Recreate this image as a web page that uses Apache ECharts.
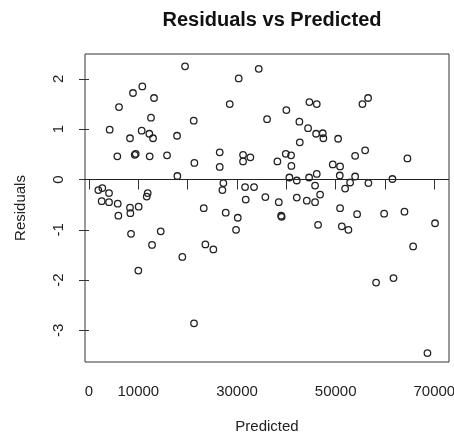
<!DOCTYPE html>
<html>
<head>
<meta charset="utf-8">
<script src="https://cdn.jsdelivr.net/npm/echarts@6/dist/echarts.min.js"></script>
<style>
html,body{margin:0;padding:0;background:#fff;}
#c{width:454px;height:435px;}
</style>
</head>
<body>
<div id="c"></div>
<script>
const predicted = [19470,10810,8920,13180,6080,12570,21230,4190,10680,12230,8310,12980,17850,5740,9270,9470,12300,15820,21360,17910,
1890,2700,4060,2570,4060,5820,5950,8310,8380,10070,11700,11900,8520,14540,12780,18920,10000,21290,
34410,30350,28530,40010,44680,46170,36100,42650,44410,46040,47390,47510,42730,26500,31230,32710,31230,26500,38190,39890,40970,41030,40620,42120,44620,46170,
27240,27040,31640,33460,31770,35750,38470,42120,44150,45830,45830,23260,27720,30160,29810,38950,39050,46440,23590,25210,
56580,55430,50500,55980,53950,64550,49420,50900,50840,53950,61510,52930,56640,51920,46850,50900,54350,59830,63950,70150,51250,52590,65710,61720,58200,68610];
const residuals = [2.25,1.85,1.72,1.62,1.44,1.23,1.17,0.99,0.97,0.91,0.82,0.82,0.87,0.46,0.49,0.51,0.46,0.48,0.33,0.07,
-0.21,-0.17,-0.27,-0.43,-0.45,-0.48,-0.72,-0.56,-0.67,-0.54,-0.34,-0.27,-1.08,-1.03,-1.30,-1.54,-1.81,-2.86,
2.20,2.01,1.50,1.38,1.54,1.50,1.20,1.15,1.02,0.91,0.92,0.82,0.74,0.54,0.49,0.44,0.36,0.25,0.36,0.51,0.48,0.27,0.04,-0.02,0.04,0.11,
-0.07,-0.21,-0.15,-0.15,-0.40,-0.35,-0.45,-0.36,-0.42,-0.45,-0.12,-0.57,-0.66,-0.76,-1.00,-0.72,-0.74,-0.90,-1.29,-1.39,
1.62,1.50,0.81,0.58,0.47,0.42,0.30,0.26,0.08,0.06,0.01,-0.06,-0.07,-0.18,-0.30,-0.57,-0.69,-0.68,-0.64,-0.87,-0.93,-1.00,-1.33,-1.96,-2.05,-3.45];
const xTicks = [0,10000,20000,30000,40000,50000,60000,70000];
const xTickLabels = [0,10000,30000,50000,70000];
const yTicks = [-3,-2,-1,0,1,2];

const data = predicted.map((p,i)=>[p,residuals[i]]);
const chart = echarts.init(document.getElementById('c'), null, {renderer:'canvas'});
const txt = '#222';
const ff = 'Liberation Sans, Arial, sans-serif';
chart.setOption({
  animation:false,
  backgroundColor:'#fff',
  title:{
    text:'Residuals vs Predicted',
    left:267, top:5, textAlign:'center',
    textStyle:{fontFamily:ff,fontSize:20,fontWeight:'bold',color:'#111'}
  },
  grid:{left:85,right:5,top:54,bottom:73,show:true,borderColor:'#333',borderWidth:1,backgroundColor:'transparent',outerBoundsMode:'none',containLabel:false},
  xAxis:{
    type:'value',min:-811,max:72980,
    name:'Predicted',nameLocation:'middle',nameGap:57,
    nameTextStyle:{fontFamily:ff,fontSize:15,color:txt},
    axisLine:{show:false},
    splitLine:{show:false},
    axisTick:{show:true,inside:false,length:10,lineStyle:{color:'#333',width:1},customValues:xTicks},
    axisLabel:{show:true,margin:22,fontFamily:ff,fontSize:15,color:txt,customValues:xTickLabels,formatter:v=>String(v),hideOverlap:false}
  },
  yAxis:{
    type:'value',min:-3.628,max:2.495,
    name:'Residuals',nameLocation:'middle',nameGap:57,nameRotate:90,
    nameTextStyle:{fontFamily:ff,fontSize:15,color:txt},
    axisLine:{show:false},
    splitLine:{show:false},
    axisTick:{show:true,inside:false,length:10,lineStyle:{color:'#333',width:1},customValues:yTicks},
    axisLabel:{show:true,margin:19,rotate:90,fontFamily:ff,fontSize:15,color:txt,customValues:yTicks,formatter:v=>String(v)}
  },
  series:[{
    type:'scatter',
    data:data,
    symbol:'circle',
    symbolSize:6.5,
    itemStyle:{color:'rgba(0,0,0,0)',borderColor:'#222',borderWidth:1.3,opacity:1},
    emphasis:{disabled:true},
    markLine:{
      silent:true,symbol:['none','none'],
      label:{show:false},
      lineStyle:{color:'#222',width:1.2,type:'solid'},
      data:[{yAxis:0}]
    }
  }]
});
</script>
</body>
</html>
